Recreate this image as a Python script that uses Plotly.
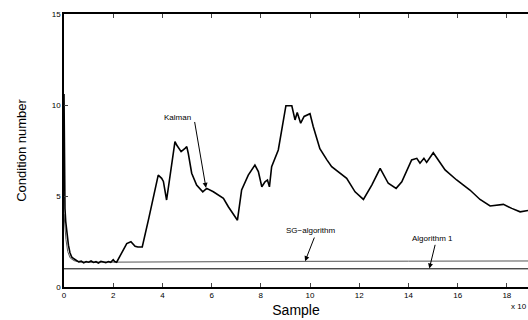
import plotly.graph_objects as go

# Kalman condition number (x in units of 10^4 samples)
kal_x = [0.0, 0.01, 0.02, 0.04, 0.07, 0.12, 0.18, 0.24, 0.31, 0.40, 0.52,
         0.6, 0.7, 0.8, 0.9, 1.0, 1.1, 1.2, 1.3, 1.4, 1.5, 1.6, 1.7, 1.8, 1.9, 2.0, 2.06, 2.14,
         2.35, 2.55, 2.72, 2.89, 3.0, 3.18, 3.45, 3.70, 3.83, 3.97, 4.04, 4.17, 4.40, 4.51,
         4.58, 4.76, 4.92, 4.99, 5.05, 5.19, 5.39, 5.64, 5.80, 6.07, 6.48, 6.68, 7.05,
         7.22, 7.49, 7.76, 7.90, 8.04, 8.17, 8.27, 8.35, 8.44, 8.71, 8.85, 9.02, 9.26,
         9.39, 9.48, 9.62, 9.76, 10.0, 10.13, 10.4, 10.68, 10.88, 11.49, 11.83, 12.17,
         12.51, 12.85, 13.18, 13.50, 13.73, 14.13, 14.34, 14.47, 14.63, 14.74, 15.01,
         15.49, 15.96, 16.5, 16.91, 17.32, 17.86, 18.2, 18.54, 18.86]
kal_y = [10.6, 8.0, 5.2, 4.3, 3.6, 2.9, 2.3, 1.9, 1.65, 1.55, 1.45,
         1.38, 1.42, 1.33, 1.40, 1.36, 1.43, 1.35, 1.39, 1.32, 1.41, 1.37, 1.34, 1.40, 1.36, 1.50, 1.40, 1.36,
         1.9, 2.39, 2.49, 2.24, 2.2, 2.2, 3.8, 5.33, 6.15, 5.97, 5.8, 4.78, 7.07, 7.99,
         7.8, 7.44, 7.62, 7.71, 7.35, 6.25, 5.6, 5.23, 5.42, 5.23, 4.87, 4.41, 3.67,
         5.33, 6.15, 6.7, 6.34, 5.51, 5.78, 5.88, 5.5, 6.61, 7.53, 8.63, 9.96, 9.96,
         9.18, 9.59, 9.0, 9.37, 9.52, 8.82, 7.6, 7.0, 6.61, 5.97, 5.23, 4.81,
         5.6, 6.52, 5.7, 5.42, 5.78, 6.98, 7.07, 6.8, 7.07, 6.85, 7.38,
         6.43, 5.88, 5.33, 4.81, 4.45, 4.54, 4.32, 4.13, 4.2]

# SG-algorithm condition number
sg_x = [0.0, 0.03, 0.08, 0.15, 0.25, 0.4, 0.6, 0.8, 2.0, 6.0, 10.0, 14.0, 18.86]
sg_y = [4.0, 3.3, 2.6, 1.95, 1.6, 1.45, 1.38, 1.36, 1.37, 1.39, 1.41, 1.42, 1.43]

# Algorithm 1 condition number
alg_x = [0.0, 18.86]
alg_y = [1.0, 1.0]

x_ticks = [0, 2, 4, 6, 8, 10, 12, 14, 16, 18]
y_ticks = [0, 5, 10, 15]

FONT = "Liberation Sans, Arial, sans-serif"

fig = go.Figure()
fig.add_trace(go.Scatter(x=alg_x, y=alg_y, mode="lines",
                         line=dict(color="#000000", width=1), showlegend=False))
fig.add_trace(go.Scatter(x=sg_x, y=sg_y, mode="lines",
                         line=dict(color="#555555", width=1), showlegend=False))
fig.add_trace(go.Scatter(x=kal_x, y=kal_y, mode="lines",
                         line=dict(color="#000000", width=1.6), showlegend=False))

labels = [("Kalman", 4.6, 9.3), ("SG\u2212algorithm", 10.0, 3.1), ("Algorithm 1", 14.99, 2.64)]
for t, x, y in labels:
    fig.add_annotation(x=x, y=y, text=t, showarrow=False,
                       font=dict(family=FONT, size=8, color="#000"))

arrows = [(5.3, 9.15, 5.77, 5.45), (10.2, 2.8, 9.8, 1.42), (15.1, 2.4, 14.85, 1.02)]
for ax, ay, x, y in arrows:
    fig.add_annotation(x=x, y=y, ax=ax, ay=ay, axref="x", ayref="y", text="",
                       showarrow=True, arrowhead=2, arrowsize=1, arrowwidth=1,
                       arrowcolor="#000", standoff=0, startstandoff=0)

fig.add_annotation(x=0.958, y=-0.073, xref="paper", yref="paper", text="x 10",
                   showarrow=False, xanchor="left", yanchor="middle",
                   font=dict(family=FONT, size=8, color="#000"))

fig.update_layout(
    width=528, height=320,
    margin=dict(l=64, r=0, t=14, b=33),
    paper_bgcolor="white", plot_bgcolor="white",
    font=dict(family=FONT, color="#000"),
    xaxis=dict(range=[0, 18.86], tickvals=x_ticks, ticks="inside", ticklen=4,
               showgrid=False, zeroline=False, showline=True, linecolor="#000",
               linewidth=1.5, mirror="ticks", tickfont=dict(size=8),
               title=dict(text="Sample", font=dict(size=14), standoff=6)),
    yaxis=dict(range=[0, 15], tickvals=y_ticks, ticks="inside", ticklen=4,
               showgrid=False, zeroline=False, showline=True, linecolor="#000",
               linewidth=1.5, tickfont=dict(size=8),
               title=dict(text="Condition number", font=dict(size=13), standoff=22)),
)

fig.write_html("out.html")
